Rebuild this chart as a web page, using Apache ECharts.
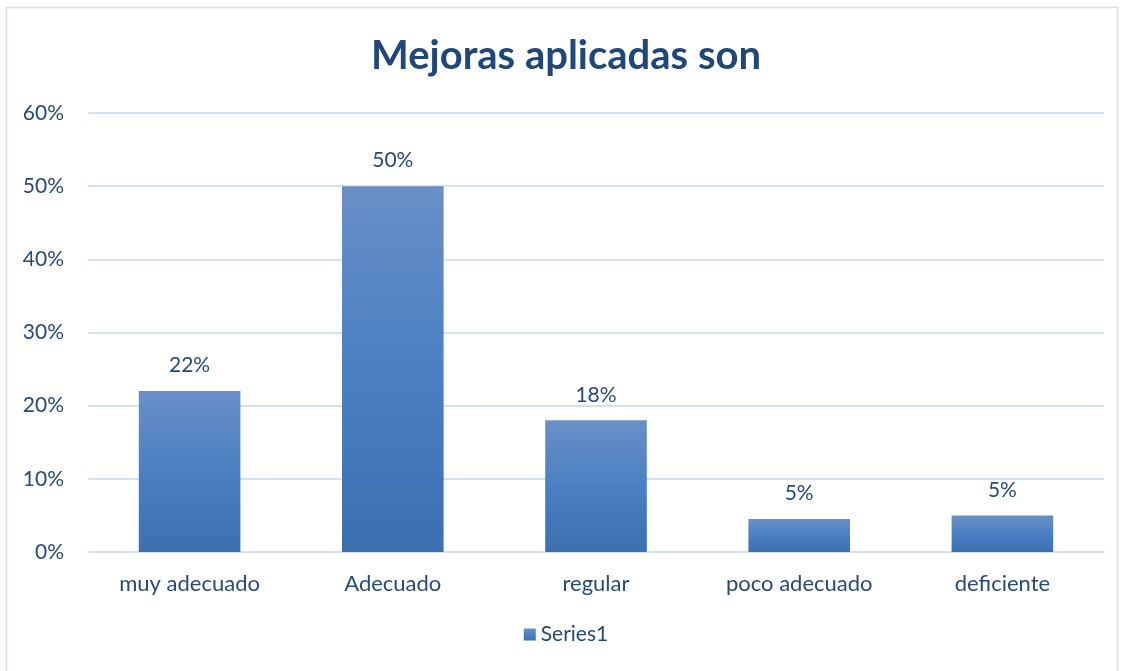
<!DOCTYPE html>
<html>
<head>
<meta charset="utf-8">
<script src="https://cdn.jsdelivr.net/npm/echarts@6/dist/echarts.min.js"></script>
<style>
  html, body { margin: 0; padding: 0; background: #fff; }
  #chart { width: 1132px; height: 671px; }
</style>
</head>
<body>
<div id="chart"></div>
<script>
// datos
const categories = ["muy adecuado", "Adecuado", "regular", "poco adecuado", "deficiente"];
const values = [22, 50, 18, 4.5, 5];
const yTicks = [0, 10, 20, 30, 40, 50, 60];

const textColor = "#264a7a";
const fontFamily = "Lato, 'Open Sans', sans-serif";

const chart = echarts.init(document.getElementById("chart"));
chart.setOption({
  animation: false,
  textStyle: { fontFamily: fontFamily },
  title: {
    text: "Mejoras aplicadas son",
    left: "center",
    top: 31,
    textStyle: { color: "#1f477a", fontSize: 40, fontWeight: "bold", fontFamily: fontFamily },
  },
  graphic: [
    {
      type: "rect",
      shape: { x: 6.5, y: 7.5, width: 1111, height: 680 },
      style: { fill: null, stroke: "#d6e1f0", lineWidth: 1.5 },
      silent: true,
    },
  ],
  legend: {
    bottom: 21,
    left: "center",
    itemWidth: 12,
    itemHeight: 12,
    itemGap: 6,
    icon: "rect",
    textStyle: { color: textColor, fontSize: 21, fontFamily: fontFamily },
    data: ["Series1"],
  },
  grid: { left: 88, right: 28, top: 113, bottom: 119 },
  xAxis: {
    type: "category",
    data: categories,
    axisTick: { show: false },
    axisLine: { lineStyle: { color: "#d6e1f0", width: 2 } },
    axisLabel: { color: textColor, fontSize: 22, margin: 21, fontFamily: fontFamily },
  },
  yAxis: {
    type: "value",
    min: yTicks[0],
    max: yTicks[yTicks.length - 1],
    interval: 10,
    axisLine: { show: false },
    axisTick: { show: false },
    splitLine: { lineStyle: { color: "#d6e1f0", width: 2 } },
    axisLabel: {
      color: textColor,
      fontSize: 21,
      margin: 24,
      fontFamily: fontFamily,
      formatter: (v) => v + "%",
    },
  },
  series: [
    {
      name: "Series1",
      type: "bar",
      data: values,
      barWidth: "50%",
      itemStyle: {
        color: new echarts.graphic.LinearGradient(0, 0, 0, 1, [
          { offset: 0, color: "#6a8fc7" },
          { offset: 0.5, color: "#4a80c3" },
          { offset: 1, color: "#3c6fb0" },
        ]),
      },
      label: {
        show: true,
        position: "top",
        distance: 15,
        color: textColor,
        fontSize: 21,
        fontFamily: fontFamily,
        formatter: (p) => Math.round(p.value) + "%",
      },
    },
  ],
});
</script>
</body>
</html>
